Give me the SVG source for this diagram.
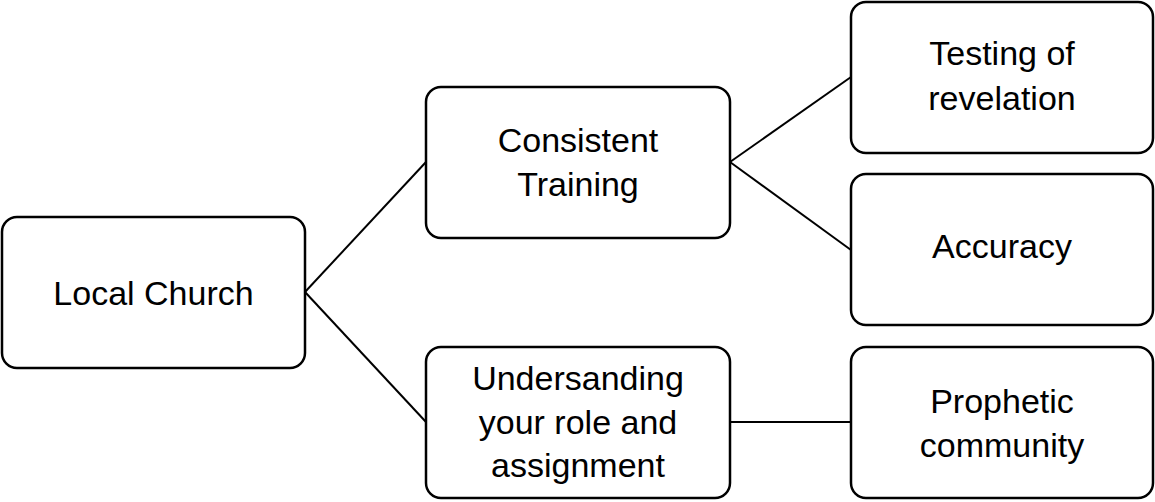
<svg xmlns="http://www.w3.org/2000/svg" width="1155" height="502" viewBox="0 0 1155 502">
  <style>
    .box { fill: #ffffff; stroke: #000000; stroke-width: 2.5; }
    .link { stroke: #000000; stroke-width: 2; fill: none; }
    .label { font-family: "Liberation Sans", Arial, sans-serif; font-size: 34px; fill: #000000; text-anchor: middle; }
  </style>
  <rect width="1155" height="502" fill="#ffffff"/>

  <g id="connectors">
    <line class="link" x1="305" y1="292" x2="426" y2="162"/>
    <line class="link" x1="305" y1="292" x2="426" y2="422"/>
    <line class="link" x1="730" y1="162" x2="851" y2="77"/>
    <line class="link" x1="730" y1="162" x2="851" y2="250"/>
    <line class="link" x1="730" y1="422" x2="851" y2="422"/>
  </g>

  <g id="local-church">
    <rect class="box" x="2" y="217" width="303" height="151" rx="15"/>
    <text class="label" x="153.5" y="305">Local Church</text>
  </g>

  <g id="consistent-training">
    <rect class="box" x="426" y="87" width="304" height="151" rx="15"/>
    <text class="label" x="578" y="152">Consistent</text>
    <text class="label" x="578" y="196">Training</text>
  </g>

  <g id="understanding-role">
    <rect class="box" x="426" y="347" width="304" height="151" rx="15"/>
    <text class="label" x="578" y="390">Undersanding</text>
    <text class="label" x="578" y="434">your role and</text>
    <text class="label" x="578" y="477">assignment</text>
  </g>

  <g id="testing-revelation">
    <rect class="box" x="851" y="2" width="302" height="151" rx="15"/>
    <text class="label" x="1002" y="65">Testing of</text>
    <text class="label" x="1002" y="110">revelation</text>
  </g>

  <g id="accuracy">
    <rect class="box" x="851" y="174" width="302" height="151" rx="15"/>
    <text class="label" x="1002" y="258">Accuracy</text>
  </g>

  <g id="prophetic-community">
    <rect class="box" x="851" y="347" width="302" height="151" rx="15"/>
    <text class="label" x="1002" y="413">Prophetic</text>
    <text class="label" x="1002" y="457">community</text>
  </g>
</svg>
